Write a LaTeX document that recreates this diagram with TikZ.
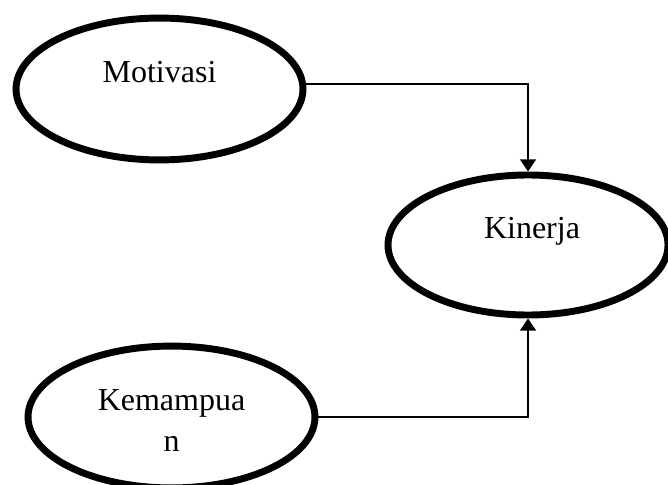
\documentclass[tikz,border=0pt]{standalone}
\usepackage{fontspec}
\setmainfont{Liberation Serif}
\usepackage{tikz}
\usetikzlibrary{shapes.geometric, arrows.meta}

\begin{document}
\begin{tikzpicture}[x=0.375pt, y=-0.375pt,
    var/.style={ellipse, draw, line width=2.6pt, minimum width=107.6pt, minimum height=53.2pt, inner sep=0pt},
    lbl/.style={inner sep=0pt, align=center, font=\fontsize{12}{15.6}\selectfont},
    link/.style={line width=0.75pt, -{Triangle[length=4.6pt,width=6pt]}}]

  \useasboundingbox (0,0) rectangle (668,484);

  % Variables
  \node[var] (mot) at (159.5,89) {};
  \node[var, minimum width=105pt, minimum height=52.5pt] (kin) at (528,245) {};
  \node[var] (kem) at (171.5,417) {};

  % Labels
  \node[lbl, anchor=base] (motT) at ([yshift=2.6pt]mot.center) {Motivasi};
  \node[lbl, anchor=base] (kinT) at ([xshift=1.5pt, yshift=2.6pt]kin.center) {Kinerja};
  \node[lbl, anchor=base] (kemT) at ([yshift=-13pt]kem.center) {Kemampua\\n};

  % Paths into Kinerja
  \draw[link] (mot.2) -| (kin.north);
  \draw[link] (kem.east) -| (kin.south);

\end{tikzpicture}
\end{document}
